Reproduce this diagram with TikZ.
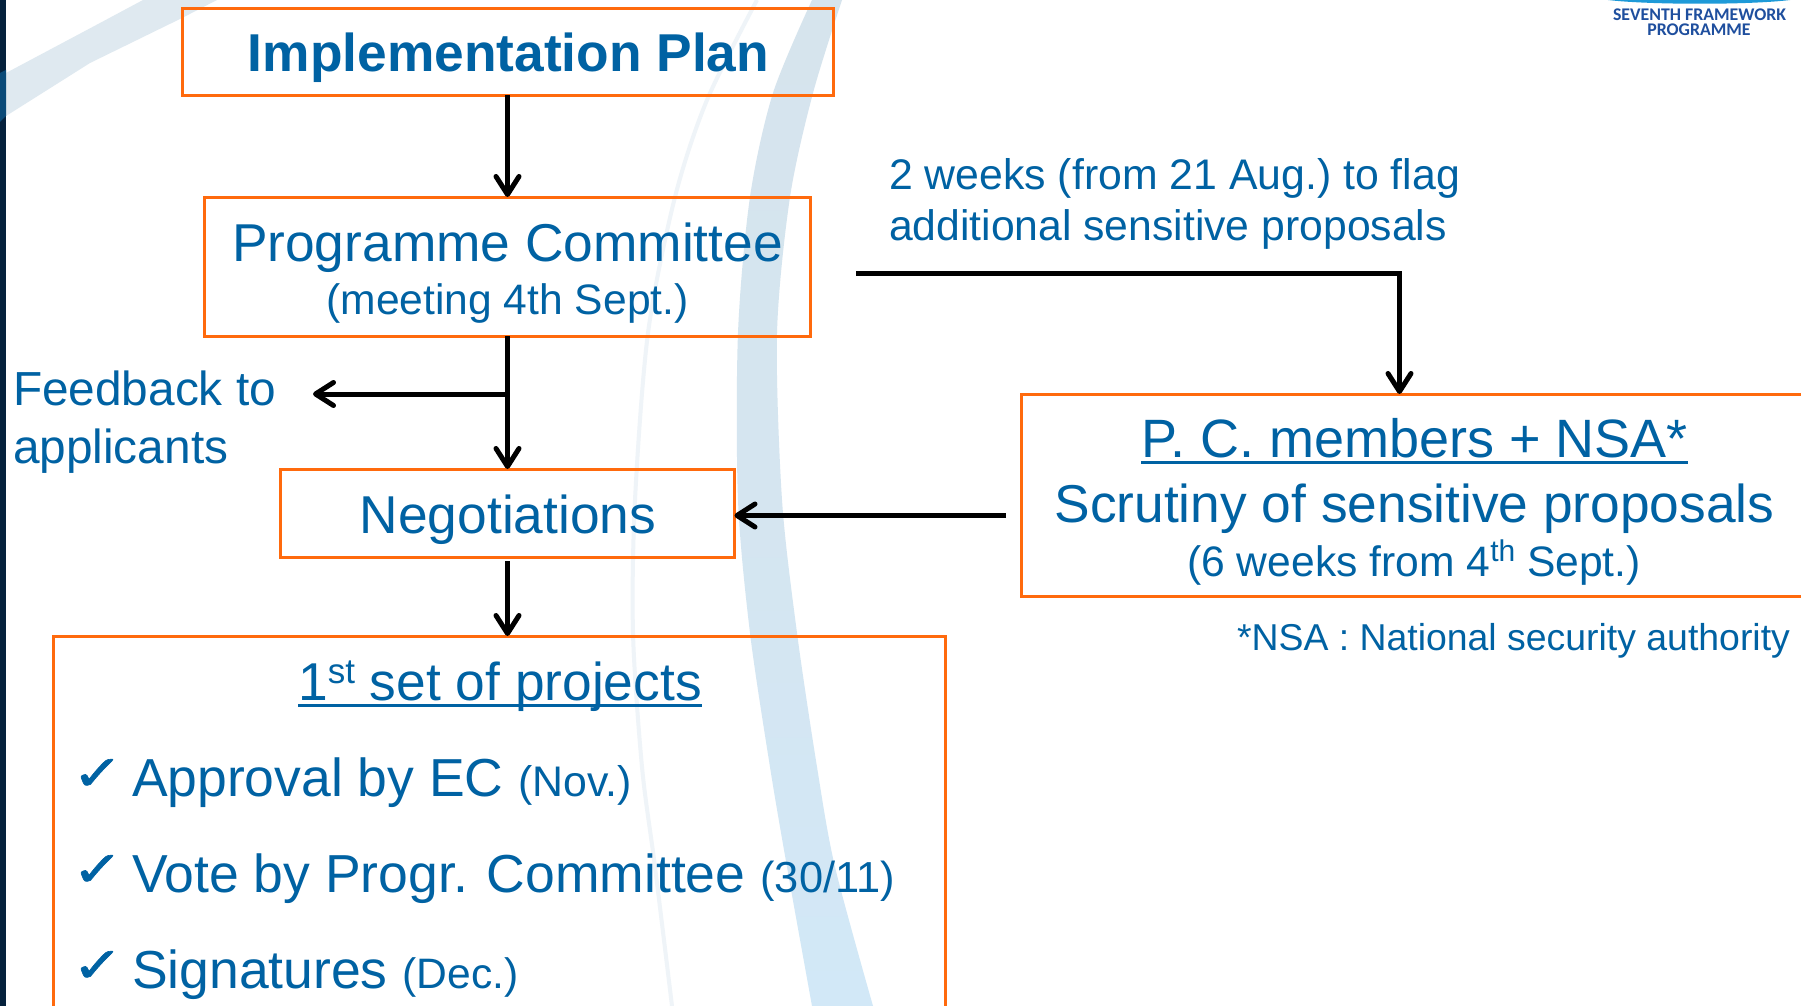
\documentclass[tikz,border=0pt]{standalone}
\usepackage{fontspec}
\setmainfont{Liberation Sans}
\newfontfamily\checkfont[FakeBold=1.2]{DejaVu Sans}
\newfontfamily\logofont{Carlito}
\usetikzlibrary{arrows.meta}
\definecolor{txt}{HTML}{0062A3}
\definecolor{org}{HTML}{FF6A0D}
\definecolor{bandA}{HTML}{D6E4ED}
\definecolor{bandB}{HTML}{D2E8F7}
\definecolor{bandC}{HTML}{EFF4F8}
\definecolor{bandD}{HTML}{DFE9F0}
\definecolor{navy}{HTML}{05213C}
\definecolor{navyb}{HTML}{0A4A78}
\definecolor{logoblue}{HTML}{1F4F9E}
\definecolor{logosky}{HTML}{1E9AD8}
\newcommand{\fs}[1]{\fontsize{#1}{#1}\selectfont}
\newcommand{\ulbar}[2]{\setbox0\hbox{#2}\rlap{\raisebox{-#1pt}{\rule{\wd0}{3.4pt}}}\box0}
\newcommand{\supr}[3]{\raisebox{#1pt}{\fs{#2}#3}}
\tikzset{
  x=1pt,y=-1pt,
  box/.style={draw=org,line width=3pt,rectangle,inner sep=0pt,outer sep=0pt,anchor=north west},
  lab/.style={text=txt,inner sep=0pt,outer sep=0pt,anchor=base west},
  clab/.style={text=txt,inner sep=0pt,outer sep=0pt,anchor=base},
  chk/.style={text=txt,inner sep=0pt,outer sep=0pt,anchor=base west,font=\checkfont\fs{49}},
  flow/.style={draw=black,line width=5pt,-{Straight Barb[length=18pt,width=23pt,round]}},
}
\begin{document}
\frenchspacing
\begin{tikzpicture}
\useasboundingbox (0,0) rectangle (1801,1006);
\fill[white] (0,0) rectangle (1801,1006);
% background sweeps
\fill[bandD] (6,73) -- (100,23) -- (143,0) -- (217,0) -- (182,18) -- (90,63) -- (6,116) -- cycle;
\shade[top color=bandA,bottom color=bandB,middle color=bandA!70!bandB]
  plot[smooth] coordinates {(812,0) (773,93) (750,197) (738,333) (738,500) (750,633) (770,767) (787,867) (812,1006)}
  -- plot[smooth] coordinates {(873,1006) (835,867) (817,767) (797,633) (782,500) (777,333) (790,197) (813,93) (842,0)}
  -- cycle;
\draw[bandC,line width=4pt] plot[smooth] coordinates {(757,0) (707,100) (675,197) (648,333) (635,500) (633,633) (642,767) (655,867) (672,1006)};
\fill[navy] (0,0) rectangle (6,1006);
\fill[navyb] (0,73) -- (6,70) -- (6,116) -- (0,122) -- cycle;
% logo
\fill[logosky] (1608,0) .. controls (1650,5) and (1750,5) .. (1790,0) -- cycle;
\node[text=logoblue,inner sep=0pt,anchor=base,font=\logofont\bfseries\fs{17.8}] (logoa) at (1699.5,21) {SEVENTH FRAMEWORK};
\node[text=logoblue,inner sep=0pt,anchor=base,font=\logofont\bfseries\fs{17.8}] (logob) at (1699,36) {PROGRAMME};
% boxes
\node[box,minimum width=651pt,minimum height=87pt] (impl) at (182.5,8.5) {};
\node[box,minimum width=606pt,minimum height=139pt] (pc) at (204.5,197) {};
\node[box,minimum width=454pt,minimum height=88pt] (neg) at (280.5,469) {};
\node[box,minimum width=892pt,minimum height=440pt] (set) at (53.5,636) {};
\node[box,minimum width=820pt,minimum height=202pt] (nsa) at (1021,394) {};
% texts
\node[clab,font=\bfseries\fs{53.3}] (implt) at (508.5,72) {Implementation Plan};
\node[clab,font=\fs{53.3}] (pct) at (507.5,261) {Programme Committee};
\node[clab,font=\fs{42.6}] (pcm) at (507.5,314.5) {(meeting 4th Sept.)};
\node[lab,font=\fs{47.8}] (fba) at (13,405) {Feedback to};
\node[lab,font=\fs{47.8}] (fbb) at (13,463) {applicants};
\node[clab,font=\fs{53.3}] (negt) at (508,533) {Negotiations};
\node[lab,font=\fs{42.8}] (wka) at (889,189.5) {2 weeks (from 21 Aug.) to flag};
\node[lab,font=\fs{42.7}] (wkb) at (889,240) {additional sensitive proposals};
\node[clab,font=\fs{54}] (nsat) at (1414.5,457) {\ulbar{7}{P. C. members + NSA*}};
\node[clab,font=\fs{53.3}] (nsas) at (1414.5,522) {Scrutiny of sensitive proposals};
\node[clab,font=\fs{42.6}] (nsaw) at (1414,576) {(6 weeks from 4\supr{15}{30}{th} Sept.)};
\node[lab,font=\fs{37.4}] (nsan) at (1237,650) {*NSA : National security authority};
\node[clab,font=\fs{53.3}] (sett) at (500,700) {\ulbar{7}{1\supr{17}{35}{st} set of projects}};
\node[chk] (cka) at (72,790) {\scalebox{1.25}[1]{✓}};
\node[chk] (ckb) at (72,886) {\scalebox{1.25}[1]{✓}};
\node[chk] (ckc) at (72,982) {\scalebox{1.25}[1]{✓}};
\node[lab,font=\fs{53.5}] (ita) at (132,796) {Approval by EC {\fs{42.8}(Nov.)}};
\node[lab,font=\fs{53.5}] (itb) at (132,892) {Vote by Progr.\kern4pt{} Committee {\fs{43.4}(30/11)}};
\node[lab,font=\fs{53.5}] (itc) at (132,988) {Signatures {\fs{42.6}(Dec.)}};
% connectors
\coordinate (fbj) at (507.5,394);
\coordinate (fbe) at (313,394);
\coordinate (wks) at (856,273.5);
\coordinate (wkc) at (1399.5,273.5);
\coordinate (nsal) at (1006,515.5);
\coordinate (negs) at (507.5,561);
\draw[flow] (pc.north|-impl.south) -- (pc.north);
\draw[flow] (pc.south) -- (pc.south|-neg.north);
\draw[flow] (fbj) -- (fbe);
\draw[flow] (negs) -- (negs|-set.north);
\draw[flow] (wks) -- (wkc) -- (wkc|-nsa.north);
\draw[flow] (nsal) -- (nsal-|neg.east);
\end{tikzpicture}
\end{document}
